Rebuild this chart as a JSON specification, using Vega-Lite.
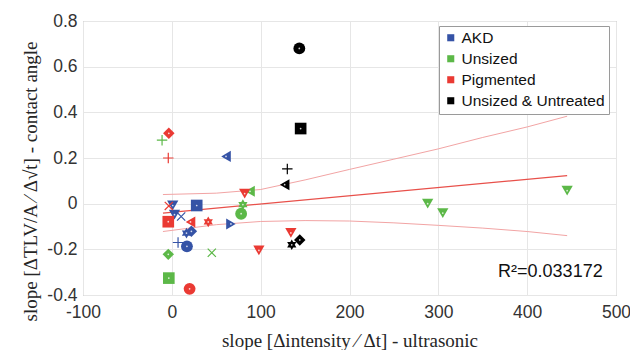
{
  "$schema": "https://vega.github.io/schema/vega-lite/v6.json",
  "width": 533,
  "height": 274,
  "autosize": {"type": "none"},
  "padding": {"left": 83, "top": 21, "right": 14, "bottom": 55},
  "background": "white",
  "config": {
    "view": {"stroke": "#9a9a9a", "strokeWidth": 1},
    "axis": {
      "labelFont": "Liberation Sans",
      "labelFontSize": 17.5,
      "labelColor": "#333333",
      "titleFont": "Liberation Serif",
      "titleFontSize": 19,
      "titleFontWeight": "normal",
      "titleColor": "#262626",
      "gridColor": "#e6e6e6",
      "domain": false,
      "ticks": false
    },
    "legend": {
      "orient": "none",
      "legendX": 356,
      "legendY": 5,
      "symbolType": "square",
      "symbolSize": 50,
      "symbolStrokeWidth": 0,
      "labelFont": "Liberation Sans",
      "labelFontSize": 15.5,
      "labelColor": "#111111",
      "strokeColor": "#9a9a9a",
      "fillColor": "white",
      "padding": 4,
      "rowPadding": 4,
      "labelOffset": 3
    }
  },
  "datasets": {
    "points": [
      {"group": "AKD", "m": "<", "x": 61, "y": 0.207},
      {"group": "AKD", "m": "v", "x": 1, "y": -0.008},
      {"group": "AKD", "m": "v", "x": 3, "y": -0.048},
      {"group": "AKD", "m": "x", "x": 10.5, "y": -0.056},
      {"group": "AKD", "m": "s", "x": 28, "y": -0.008},
      {"group": "AKD", "m": ">", "x": 66.5, "y": -0.089},
      {"group": "AKD", "m": "h", "x": 16.5, "y": -0.129},
      {"group": "AKD", "m": "d", "x": 22, "y": -0.121},
      {"group": "AKD", "m": "+", "x": 7, "y": -0.17},
      {"group": "AKD", "m": "o", "x": 17, "y": -0.187},
      {"group": "Unsized", "m": "+", "x": -11, "y": 0.278},
      {"group": "Unsized", "m": "<", "x": 88, "y": 0.054},
      {"group": "Unsized", "m": "h", "x": 80, "y": -0.004},
      {"group": "Unsized", "m": "o", "x": 78, "y": -0.044},
      {"group": "Unsized", "m": "d", "x": -4, "y": -0.222},
      {"group": "Unsized", "m": "x", "x": 45, "y": -0.215},
      {"group": "Unsized", "m": "s", "x": -3.4, "y": -0.326},
      {"group": "Unsized", "m": "v", "x": 288, "y": 0.0},
      {"group": "Unsized", "m": "v", "x": 305, "y": -0.041},
      {"group": "Unsized", "m": "v", "x": 445, "y": 0.057},
      {"group": "Pigmented", "m": "d", "x": -3.4, "y": 0.308},
      {"group": "Pigmented", "m": "+", "x": -4, "y": 0.2},
      {"group": "Pigmented", "m": "v", "x": 82, "y": 0.044},
      {"group": "Pigmented", "m": "x", "x": -3.4, "y": -0.01},
      {"group": "Pigmented", "m": "s", "x": -4, "y": -0.079},
      {"group": "Pigmented", "m": "<", "x": 21, "y": -0.08},
      {"group": "Pigmented", "m": "h", "x": 41, "y": -0.08},
      {"group": "Pigmented", "m": "v", "x": 134, "y": -0.128},
      {"group": "Pigmented", "m": "v", "x": 98, "y": -0.205},
      {"group": "Pigmented", "m": "o", "x": 20, "y": -0.373},
      {"group": "Unsized & Untreated", "m": "o", "x": 143.5, "y": 0.68},
      {"group": "Unsized & Untreated", "m": "s", "x": 145, "y": 0.329},
      {"group": "Unsized & Untreated", "m": "+", "x": 130, "y": 0.152},
      {"group": "Unsized & Untreated", "m": "<", "x": 127, "y": 0.083},
      {"group": "Unsized & Untreated", "m": "h", "x": 135, "y": -0.18},
      {"group": "Unsized & Untreated", "m": "d", "x": 144, "y": -0.159}
    ],
    "fit": [
      {"x": -10, "y": -0.041},
      {"x": 445, "y": 0.123}
    ],
    "band": [
      {"bound": "upper", "x": -10, "y": 0.04},
      {"bound": "upper", "x": 50, "y": 0.046},
      {"bound": "upper", "x": 100, "y": 0.062},
      {"bound": "upper", "x": 150, "y": 0.104},
      {"bound": "upper", "x": 200, "y": 0.15},
      {"bound": "upper", "x": 250, "y": 0.195},
      {"bound": "upper", "x": 300, "y": 0.24},
      {"bound": "upper", "x": 350, "y": 0.29},
      {"bound": "upper", "x": 400, "y": 0.336},
      {"bound": "upper", "x": 445, "y": 0.383},
      {"bound": "lower", "x": -10, "y": -0.122},
      {"bound": "lower", "x": 50, "y": -0.092},
      {"bound": "lower", "x": 100, "y": -0.078},
      {"bound": "lower", "x": 150, "y": -0.074},
      {"bound": "lower", "x": 200, "y": -0.076},
      {"bound": "lower", "x": 250, "y": -0.084},
      {"bound": "lower", "x": 300, "y": -0.095},
      {"bound": "lower", "x": 350, "y": -0.107},
      {"bound": "lower", "x": 400, "y": -0.122},
      {"bound": "lower", "x": 445, "y": -0.14}
    ],
    "annot": [
      {"x": 485, "y": -0.3, "label": "R²=0.033172"}
    ]
  },
  "encoding": {
    "x": {
      "field": "x",
      "type": "quantitative",
      "scale": {"domain": [-100, 500], "nice": false, "zero": false},
      "axis": {
        "values": [-100, 0, 100, 200, 300, 400, 500],
        "labelExpr": "replace(format(datum.value, 'd'), '−', '-')",
        "labelPadding": 8,
        "labelFlush": false,
        "title": "slope [Δintensity ⁄ Δt] - ultrasonic",
        "titlePadding": 11
      }
    },
    "y": {
      "field": "y",
      "type": "quantitative",
      "scale": {"domain": [-0.4, 0.8], "nice": false, "zero": false},
      "axis": {
        "values": [-0.4, -0.2, 0, 0.2, 0.4, 0.6, 0.8],
        "labelExpr": "replace(format(datum.value, '~g'), '−', '-')",
        "labelPadding": 6,
        "labelFlush": false,
        "title": "slope [ΔTLV/A ⁄ Δ√t] - contact angle",
        "titlePadding": 6,
        "titleY": 160
      }
    }
  },
  "layer": [
    {
      "data": {"name": "band"},
      "mark": {"type": "line", "color": "#f2a4a4", "strokeWidth": 1},
      "encoding": {"detail": {"field": "bound"}}
    },
    {
      "data": {"name": "fit"},
      "mark": {"type": "line", "color": "#e8504a", "strokeWidth": 1.2},
      "encoding": {}
    },
    {
      "data": {"name": "points"},
      "transform": [{"filter": "datum.m != '+' && datum.m != 'x'"}],
      "mark": {"type": "point", "filled": true, "opacity": 1},
      "encoding": {
        "color": {
          "field": "group",
          "type": "nominal",
          "scale": {
            "domain": ["AKD", "Unsized", "Pigmented", "Unsized & Untreated"],
            "range": ["#3553a6", "#5cb848", "#ea3a33", "#000000"]
          },
          "legend": {"title": null}
        },
        "shape": {
          "field": "m",
          "type": "nominal",
          "scale": {
            "domain": ["o", "s", "d", "v", "<", ">", "h", "+", "x"],
            "range": ["circle", "square", "diamond", "triangle-down", "triangle-left", "triangle-right", "M0,-1L0.866,0.5L-0.866,0.5ZM0,1L-0.866,-0.5L0.866,-0.5Z", "M-1,0L1,0M0,-1L0,1", "M-0.8,-0.8L0.8,0.8M-0.8,0.8L0.8,-0.8"]
          },
          "legend": null
        },
        "size": {
          "field": "m",
          "type": "nominal",
          "scale": {
            "domain": ["o", "s", "d", "v", "<", ">", "h", "+", "x"],
            "range": [140, 105, 160, 200, 200, 200, 170, 150, 110]
          },
          "legend": null
        }
      }
    },
    {
      "data": {"name": "points"},
      "transform": [{"filter": "datum.m == '+' || datum.m == 'x'"}],
      "mark": {"type": "point", "filled": false, "strokeWidth": 1.2, "opacity": 1},
      "encoding": {
        "color": {"field": "group", "type": "nominal", "legend": null},
        "shape": {"field": "m", "type": "nominal", "legend": null},
        "size": {"field": "m", "type": "nominal", "legend": null}
      }
    },
    {
      "data": {"name": "points"},
      "transform": [{"filter": "datum.m != '+' && datum.m != 'x'"}],
      "mark": {"type": "point", "filled": true, "color": "white", "opacity": 0.8, "size": 3, "shape": "circle"},
      "encoding": {}
    },
    {
      "data": {"name": "annot"},
      "mark": {"type": "text", "align": "right", "baseline": "middle", "font": "Liberation Sans", "fontSize": 18, "color": "#111111"},
      "encoding": {"text": {"field": "label"}}
    }
  ]
}
